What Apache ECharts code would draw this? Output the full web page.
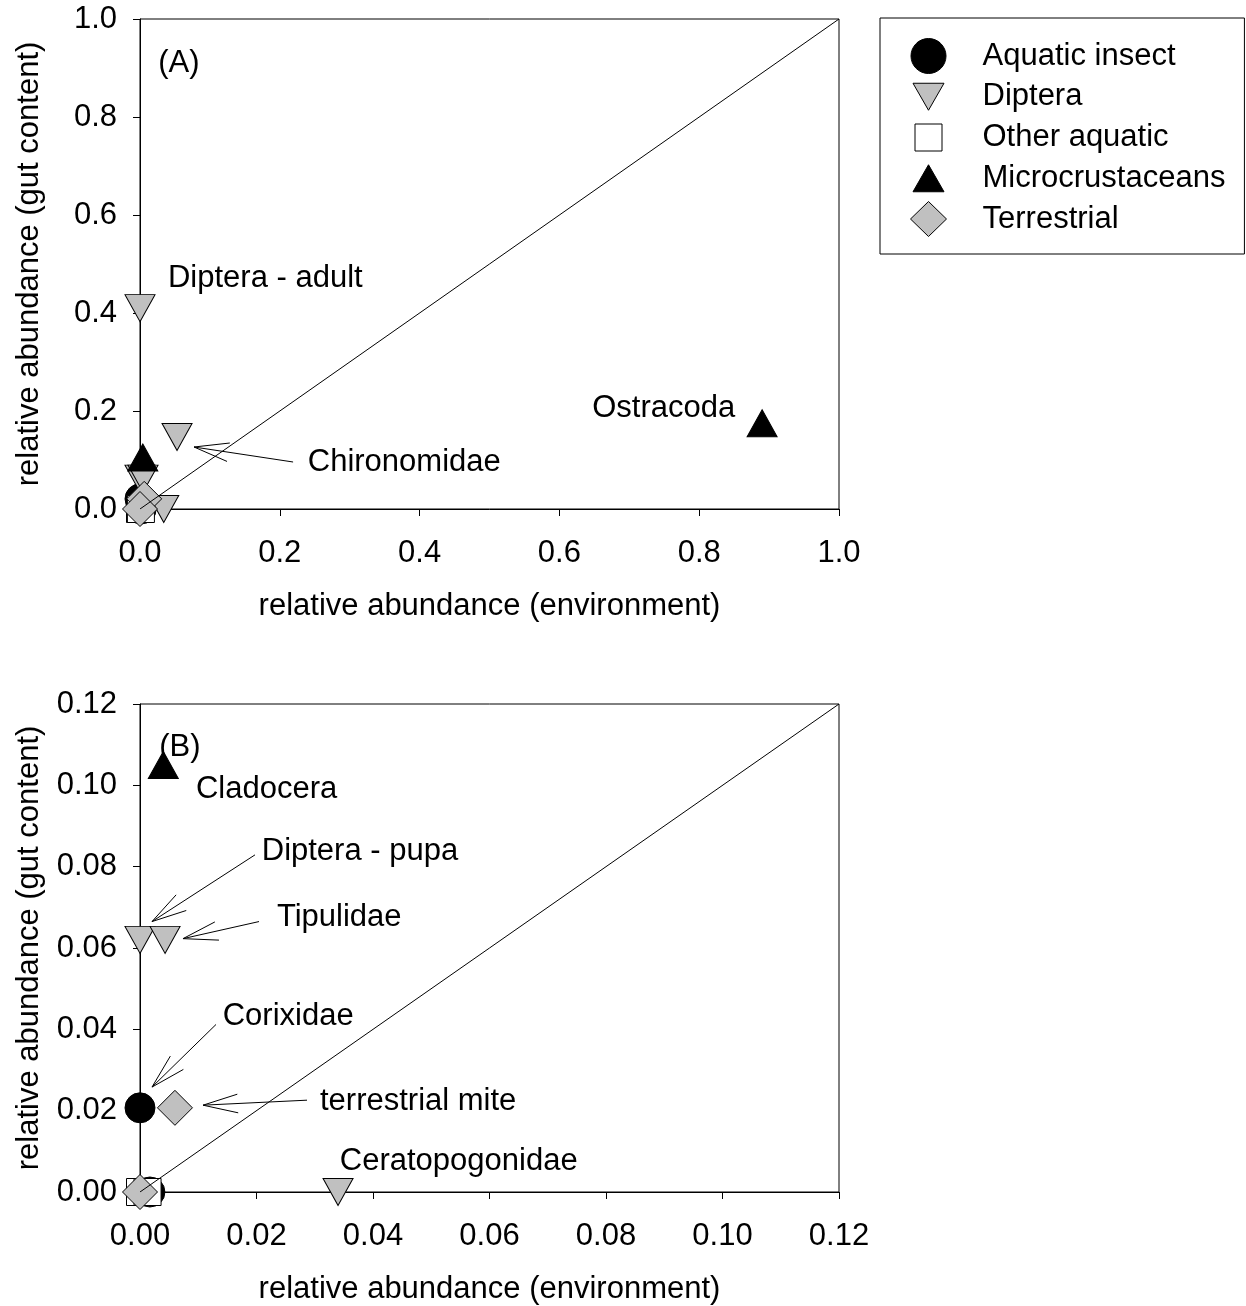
<!DOCTYPE html>
<html>
<head>
<meta charset="utf-8">
<script src="https://cdn.jsdelivr.net/npm/echarts@6/dist/echarts.min.js"></script>
<style>
  html, body { margin: 0; padding: 0; background: #fff; }
  #chart { width: 1246px; height: 1306px; }
</style>
</head>
<body>
<div id="chart"></div>
<script>
// Prey groups, shown in the legend in this order
const groupNames = ['Aquatic insect', 'Diptera', 'Other aquatic', 'Microcrustaceans', 'Terrestrial'];

// [relative abundance in environment, relative abundance in gut content]
const aquaticInsect    = [[0, 0.0207], [0.0017, 0]];                                   // Corixidae, other
const diptera          = [[0, 0.41], [0.053, 0.147], [0, 0.062], [0.0043, 0.062], [0.034, 0]]; // adult, Chironomidae, pupa, Tipulidae, Ceratopogonidae
const otherAquatic     = [[0, 0], [0.0013, 0]];
const microcrustaceans = [[0.89, 0.175], [0.004, 0.105]];                              // Ostracoda, Cladocera
const terrestrial      = [[0.006, 0.0207], [0, 0]];                                    // terrestrial mite, other

// Axis ranges and tick steps of the two panels
const rangeA = [0, 1.0];  const stepA = 0.2;
const rangeB = [0, 0.12]; const stepB = 0.02;

// Text annotations (data coordinates), with optional arrow from tail to tip
const notesA = [
  { text: '(A)', at: [0.026, 0.910] },
  { text: 'Diptera - adult', at: [0.040, 0.471] },
  { text: 'Chironomidae', at: [0.240, 0.096], tip: [0.0773, 0.1265], tail: [0.219, 0.0959] },
  { text: 'Ostracoda', at: [0.647, 0.206] }
];
const notesB = [
  { text: '(B)', at: [0.0033, 0.1094] },
  { text: 'Cladocera', at: [0.0096, 0.0989] },
  { text: 'Diptera - pupa', at: [0.0209, 0.0837], tip: [0.00206, 0.0665], tail: [0.01974, 0.0829] },
  { text: 'Tipulidae', at: [0.0235, 0.0675], tip: [0.00738, 0.0623], tail: [0.02043, 0.0665] },
  { text: 'Corixidae', at: [0.0142, 0.0432], tip: [0.00206, 0.0258], tail: [0.01305, 0.0412] },
  { text: 'terrestrial mite', at: [0.0309, 0.0223], tip: [0.01082, 0.02135], tail: [0.02867, 0.02258] },
  { text: 'Ceratopogonidae', at: [0.0343, 0.0076] }
];

const FONT = '"Liberation Sans", Arial, Helvetica, sans-serif';
const FS = 31;
const GRAY = '#c0c0c0';

const groupData = [aquaticInsect, diptera, otherAquatic, microcrustaceans, terrestrial];
const markerStyles = [
  { symbol: 'circle',   size: 30,       rotate: 0,   color: '#000' },
  { symbol: 'triangle', size: [30, 27], rotate: 180, color: GRAY },
  { symbol: 'rect',     size: 27,       rotate: 0,   color: '#fff' },
  { symbol: 'triangle', size: [30, 27], rotate: 0,   color: '#000' },
  { symbol: 'diamond',  size: 35,       rotate: 0,   color: GRAY }
];

// Legend icons: drawn inside an 87x35 item box (the leading moves fix the box)
const ICON_BOX = 'path://M0,0M87,35';
const legendIcons = [
  ICON_BOX + 'M20.5,17.5A17.5,17.5,0,1,1,55.5,17.5A17.5,17.5,0,1,1,20.5,17.5Z',
  ICON_BOX + 'M22.5,4L53.5,4L38,31Z',
  ICON_BOX + 'M24.5,4L51.5,4L51.5,31L24.5,31Z',
  ICON_BOX + 'M38,4L53.5,31L22.5,31Z',
  ICON_BOX + 'M38,0L56,17.5L38,35L20,17.5Z'
];

const textStyle = { fontFamily: FONT, fontSize: FS, color: '#000' };

function valueAxis(gridIndex, range, step, decimals, name, isX) {
  return {
    type: 'value',
    gridIndex,
    min: range[0],
    max: range[1],
    interval: step,
    name,
    nameLocation: 'middle',
    nameGap: isX ? 82 : 95,
    nameTextStyle: textStyle,
    axisLine: { show: true, onZero: false, lineStyle: { color: '#000', width: 1 } },
    axisTick: { show: true, inside: false, length: 7, lineStyle: { color: '#000', width: 1 } },
    axisLabel: {
      show: true,
      margin: isX ? 29 : 23,
      formatter: v => v.toFixed(decimals),
      fontFamily: FONT, fontSize: FS, color: '#000'
    },
    splitLine: { show: false }
  };
}

function scatterSeries(panel) {
  return groupData.map((pts, i) => ({
    type: 'scatter',
    name: groupNames[i],
    xAxisIndex: panel,
    yAxisIndex: panel,
    data: pts,
    symbol: markerStyles[i].symbol,
    symbolSize: markerStyles[i].size,
    symbolRotate: markerStyles[i].rotate,
    itemStyle: { color: markerStyles[i].color, borderColor: '#000', borderWidth: 1, opacity: 1 },
    z: 3,
    silent: true
  }));
}

// 1:1 reference line spanning the panel's range
function identityLine(panel, range) {
  return {
    type: 'line',
    xAxisIndex: panel,
    yAxisIndex: panel,
    data: [[range[0], range[0]], [range[1], range[1]]],
    symbol: 'none',
    lineStyle: { color: '#000', width: 1 },
    z: 5,
    silent: true
  };
}

function rotate(v, deg) {
  const r = deg * Math.PI / 180;
  return [v[0] * Math.cos(r) - v[1] * Math.sin(r), v[0] * Math.sin(r) + v[1] * Math.cos(r)];
}

function annotationSeries(panel, notes) {
  return {
    type: 'custom',
    xAxisIndex: panel,
    yAxisIndex: panel,
    data: notes.map(n => n.at),
    clip: false,
    z: 2,
    silent: true,
    renderItem: (params, api) => {
      const n = notes[params.dataIndex];
      const p = api.coord(n.at);
      const children = [{
        type: 'text',
        style: {
          text: n.text, x: p[0], y: p[1],
          font: FS + 'px ' + FONT, fill: '#000',
          align: 'left', verticalAlign: 'middle'
        }
      }];
      if (n.tip) {
        const a = api.coord(n.tip);
        const b = api.coord(n.tail);
        const len = Math.hypot(b[0] - a[0], b[1] - a[1]);
        const u = [(b[0] - a[0]) / len, (b[1] - a[1]) / len];
        const r1 = rotate(u, 15), r2 = rotate(u, -15);
        const barb = 36;
        const lineStyle = { stroke: '#000', lineWidth: 1, fill: null };
        children.push({ type: 'polyline', shape: { points: [b, a] }, style: lineStyle });
        children.push({
          type: 'polyline',
          shape: { points: [[a[0] + r1[0] * barb, a[1] + r1[1] * barb], a, [a[0] + r2[0] * barb, a[1] + r2[1] * barb]] },
          style: lineStyle
        });
      }
      return { type: 'group', children };
    }
  };
}

const chart = echarts.init(document.getElementById('chart'), null, { renderer: 'canvas' });

chart.setOption({
  animation: false,
  backgroundColor: '#fff',
  textStyle: { fontFamily: FONT },
  grid: [
    { left: 140, top: 19, width: 699, height: 490, show: true, borderColor: '#000', borderWidth: 1, backgroundColor: 'transparent' },
    { left: 140, top: 704, width: 699, height: 489, show: true, borderColor: '#000', borderWidth: 1, backgroundColor: 'transparent' }
  ],
  xAxis: [
    valueAxis(0, rangeA, stepA, 1, 'relative abundance (environment)', true),
    valueAxis(1, rangeB, stepB, 2, 'relative abundance (environment)', true)
  ],
  yAxis: [
    valueAxis(0, rangeA, stepA, 1, 'relative abundance (gut content)', false),
    valueAxis(1, rangeB, stepB, 2, 'relative abundance (gut content)', false)
  ],
  legend: {
    orient: 'vertical',
    left: 880,
    top: 18,
    itemWidth: 87,
    itemHeight: 35,
    itemGap: 4.75,
    padding: [20, 19, 17, 10],
    borderColor: '#000',
    borderWidth: 1,
    selectedMode: false,
    itemStyle: { borderColor: '#000', borderWidth: 1 },
    textStyle: Object.assign({ lineHeight: 35 }, textStyle),
    data: groupNames.map((n, i) => ({ name: n, icon: legendIcons[i] }))
  },
  series: [
    ...scatterSeries(0),
    identityLine(0, rangeA),
    annotationSeries(0, notesA),
    ...scatterSeries(1),
    identityLine(1, rangeB),
    annotationSeries(1, notesB)
  ]
});
</script>
</body>
</html>
